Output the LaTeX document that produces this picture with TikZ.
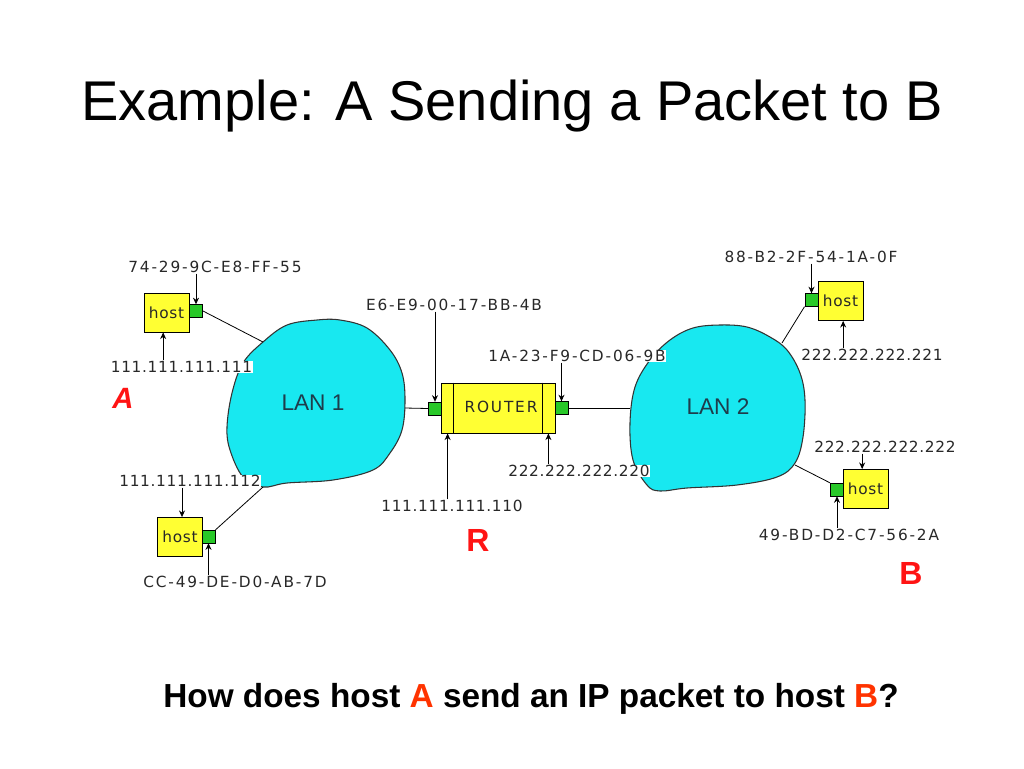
\documentclass[tikz,border=0pt]{standalone}
\usepackage{fontspec}
\setmainfont{Liberation Sans}
\newfontfamily\macfont[LetterSpace=12]{DejaVu Sans}
\newfontfamily\ipfont[LetterSpace=4.5]{DejaVu Sans}
\usetikzlibrary{arrows.meta}
\definecolor{lancyan}{RGB}{24,232,240}
\definecolor{hostyellow}{RGB}{255,255,51}
\definecolor{portgreen}{RGB}{40,200,40}
\definecolor{redA}{RGB}{255,20,20}
\definecolor{orangered}{RGB}{255,51,0}
\definecolor{lantext}{RGB}{30,60,75}
\definecolor{lbltext}{RGB}{40,40,40}
\begin{document}
\begin{tikzpicture}[x=0.75pt,y=-0.75pt,
 maclbl/.style={font=\macfont\fontsize{11.5}{13}\selectfont, text=lbltext, fill=white, inner sep=0.5pt},
 iplbl/.style={font=\ipfont\fontsize{11.5}{13}\selectfont, text=lbltext, fill=white, inner sep=0.5pt},
 hostbox/.style={draw=black, line width=0.6pt, fill=hostyellow, minimum width=33.75pt, minimum height=29.25pt, inner sep=0pt, font=\ipfont\fontsize{11.5}{13}\selectfont, text=lbltext},
 port/.style={draw=black, line width=0.5pt, fill=portgreen, minimum width=10pt, minimum height=9.5pt, inner sep=0pt},
 arr/.style={-{Stealth[length=5pt,width=4.5pt]}, line width=0.7pt},
 link/.style={line width=0.6pt},
 lan/.style={draw=black!80, line width=0.8pt, fill=lancyan},
 redlet/.style={text=redA, font=\bfseries\fontsize{24}{28}\selectfont},
]
\fill[white] (0,0) rectangle (1024,768);
\useasboundingbox (0,0) rectangle (1024,768);

% title and question
\node[font=\fontsize{42}{50}\selectfont, anchor=base] (title) at (512,120) {Example: A Sending a Packet to B};
\node[font=\bfseries\fontsize{25}{30}\selectfont, anchor=base] (question) at (531,707) {How does host \textcolor{orangered}{A} send an IP packet to host \textcolor{orangered}{B}?};

% LAN clouds
\draw[lan] plot[smooth cycle, tension=0.6] coordinates {(263,342) (287,325) (317,320) (340,320) (367,328) (390,350) (402,373) (405,400) (402,430) (390,453) (373,470) (333,480) (287,483) (263,487) (243,477) (230,450) (227,427) (232,393) (243,363)};
\draw[lan] plot[smooth cycle, tension=0.6] coordinates {(720,325) (747,327) (770,337) (787,350) (800,373) (805,400) (803,437) (795,463) (777,477) (737,485) (687,488) (660,491) (647,485) (633,460) (630,423) (635,387) (650,360) (670,340) (693,328)};
\node[font=\fontsize{17}{20}\selectfont, text=lantext] (lan1) at (313,403) {LAN 1};
\node[font=\fontsize{17}{20}\selectfont, text=lantext] (lan2) at (718,407) {LAN 2};
\coordinate (l1a) at (263,342);
\coordinate (l1b) at (263,487);
\coordinate (l1r) at (405,408);
\coordinate (l2l) at (630,408);
\coordinate (l2a) at (782,343);
\coordinate (l2b) at (795,465);

% hosts
\node[hostbox] (hostA) at (166.5,312.5) {host};
\node[port] (portA) at (196,311) {};
\node[hostbox] (hostA2) at (180,537) {host};
\node[port] (portA2) at (208.5,536.5) {};
\node[hostbox] (hostTR) at (840.5,301) {host};
\node[port] (portTR) at (811.5,300) {};
\node[hostbox] (hostB) at (865.5,489) {host};
\node[port] (portB) at (837,489.5) {};

% router
\node[draw=black, line width=0.6pt, fill=hostyellow, minimum width=85.5pt, minimum height=37.5pt, inner sep=0pt] (router) at (498,408) {};
\draw[line width=0.6pt] ([xshift=9.75pt]router.north west) -- ([xshift=9.75pt]router.south west);
\draw[line width=0.6pt] ([xshift=-9.75pt]router.north east) -- ([xshift=-9.75pt]router.south east);
\node[font=\macfont\fontsize{11.5}{13}\selectfont, text=lbltext] (routertxt) at (501,407) {ROUTER};
\node[port] (portRL) at (435,408.5) {};
\node[port] (portRR) at (561.5,408) {};

% links
\draw[link] (portA.east) -- (l1a);
\draw[link] (portA2.north east) -- (l1b);
\draw[link] (l1r) -- (portRL.west);
\draw[link] (portRR.east) -- (l2l);
\draw[link] (portTR.south west) -- (l2a);
\draw[link] (portB.north west) -- (l2b);

% labels
\node[maclbl] (macA) at (215,267) {74-29-9C-E8-FF-55};
\node[iplbl] (ipA) at (181.5,367) {111.111.111.111};
\node[iplbl] (ipA2) at (190,481) {111.111.111.112};
\node[maclbl] (macA2) at (235,582) {CC-49-DE-D0-AB-7D};
\node[maclbl] (macRL) at (454,305) {E6-E9-00-17-BB-4B};
\node[maclbl] (macRR) at (577,356) {1A-23-F9-CD-06-9B};
\node[iplbl] (ipRR) at (579,471) {222.222.222.220};
\node[iplbl] (ipRL) at (452,506) {111.111.111.110};
\node[maclbl] (macTR) at (811,257) {88-B2-2F-54-1A-0F};
\node[iplbl] (ipTR) at (872,355) {222.222.222.221};
\node[iplbl] (ipB) at (885,447) {222.222.222.222};
\node[maclbl] (macB) at (849,535) {49-BD-D2-C7-56-2A};

% arrows
\draw[arr] (portA.north |- macA.south) -- (portA.north);
\draw[arr] ([xshift=-2.5pt]hostA.south |- ipA.north) -- ([xshift=-2.5pt]hostA.south);
\draw[arr] ([xshift=1.5pt]hostA2.north |- ipA2.south) -- ([xshift=1.5pt]hostA2.north);
\draw[arr] (portA2.south |- macA2.north) -- (portA2.south);
\draw[arr] (portRL.north |- macRL.south) -- (portRL.north);
\draw[arr] (portRR.north |- macRR.south) -- (portRR.north);
\draw[arr] ([xshift=-5.25pt]router.south east |- ipRR.north) -- ([xshift=-5.25pt]router.south east);
\draw[arr] ([xshift=5.25pt]router.south west |- ipRL.north) -- ([xshift=5.25pt]router.south west);
\draw[arr] (portTR.north |- macTR.south) -- (portTR.north);
\draw[arr] ([xshift=2pt]hostTR.south |- ipTR.north) -- ([xshift=2pt]hostTR.south);
\draw[arr] ([xshift=-2.5pt]hostB.north |- ipB.south) -- ([xshift=-2.5pt]hostB.north);
\draw[arr] (portB.south |- macB.north) -- (portB.south);

% red letters
\node[redlet, font=\bfseries\itshape\fontsize{22}{26}\selectfont] (letA) at (123,398) {A};
\node[redlet] (letR) at (478,540) {R};
\node[redlet] (letB) at (911,573) {B};
\end{tikzpicture}
\end{document}
